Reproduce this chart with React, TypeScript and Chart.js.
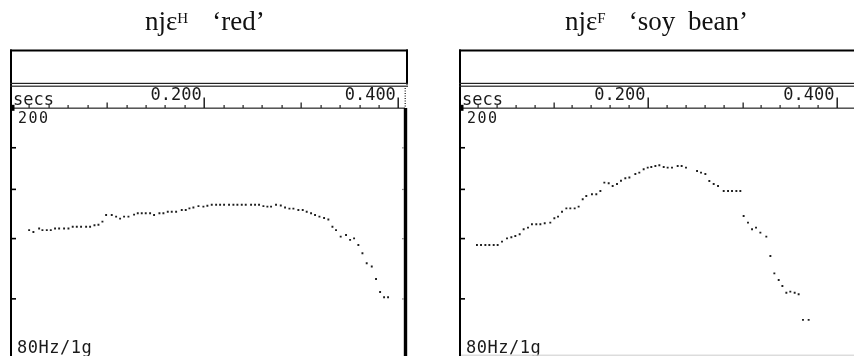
import React, { useEffect, useRef } from 'react';
import { Chart, registerables } from 'chart.js';

Chart.register(...registerables);

// ---------- data ----------
// Left panel: njɛH 'red'  (time in seconds, F0 in Hz)
const LEFT_TIMES = [
  0.0197, 0.0241, 0.0300, 0.0334, 0.0379, 0.0420, 0.0464, 0.0506, 0.0557, 0.0602,
  0.0646, 0.0688, 0.0732, 0.0784, 0.0825, 0.0870, 0.0911, 0.0952, 0.0990, 0.1048,
  0.1093, 0.1134, 0.1175, 0.1220, 0.1278, 0.1316, 0.1357, 0.1398, 0.1443, 0.1484,
  0.1539, 0.1580, 0.1625, 0.1666, 0.1711, 0.1769, 0.1810, 0.1848, 0.1889, 0.1941,
  0.1992, 0.2033, 0.2078, 0.2123, 0.2164, 0.2205, 0.2256, 0.2301, 0.2342, 0.2387,
  0.2428, 0.2483, 0.2524, 0.2565, 0.2610, 0.2651, 0.2689, 0.2740, 0.2789, 0.2833,
  0.2878, 0.2919, 0.2970, 0.3015, 0.3056, 0.3101, 0.3142, 0.3187, 0.3235, 0.3279,
  0.3321, 0.3358, 0.3406, 0.3461, 0.3503, 0.3544, 0.3588, 0.3630, 0.3674, 0.3726,
  0.3770, 0.3812, 0.3853, 0.3894,
];
const LEFT_HZ = [
  129.0, 128.1, 129.8, 129.0, 129.0, 129.0, 129.8, 129.8, 129.8, 129.8,
  130.6, 130.6, 130.6, 130.6, 130.6, 131.3, 131.6, 133.1, 136.4, 136.4,
  135.6, 134.6, 135.6, 135.6, 136.6, 137.3, 137.3, 137.3, 137.3, 136.4,
  137.3, 137.3, 138.1, 138.1, 138.1, 139.0, 139.0, 139.8, 140.3, 141.0,
  140.7, 141.2, 141.7, 141.7, 141.7, 141.7, 141.7, 141.7, 141.7, 141.7,
  141.7, 141.7, 141.7, 141.7, 141.0, 140.7, 140.7, 141.7, 141.3, 140.3,
  139.7, 139.7, 139.0, 139.0, 138.1, 137.3, 136.4, 135.6, 134.9, 134.2,
  130.6, 129.0, 125.9, 126.7, 124.4, 125.1, 122.1, 118.4, 114.1, 112.7,
  107.6, 102.6, 100.6, 100.6,
];

// Right panel: njɛF 'soy bean'
const RIGHT_TIMES = [
  0.0190, 0.0233, 0.0279, 0.0321, 0.0367, 0.0409, 0.0455, 0.0508, 0.0554, 0.0596,
  0.0642, 0.0684, 0.0730, 0.0772, 0.0818, 0.0861, 0.0907, 0.0966, 0.1009, 0.1048,
  0.1090, 0.1136, 0.1178, 0.1224, 0.1266, 0.1309, 0.1347, 0.1407, 0.1453, 0.1496,
  0.1538, 0.1584, 0.1626, 0.1672, 0.1714, 0.1760, 0.1803, 0.1866, 0.1908, 0.1954,
  0.1997, 0.2035, 0.2078, 0.2120, 0.2166, 0.2208, 0.2254, 0.2314, 0.2356, 0.2402,
  0.2519, 0.2561, 0.2607, 0.2649, 0.2695, 0.2741, 0.2801, 0.2847, 0.2889, 0.2935,
  0.2977, 0.3012, 0.3058, 0.3101, 0.3143, 0.3189, 0.3252, 0.3295, 0.3337, 0.3383,
  0.3422, 0.3464, 0.3506, 0.3552, 0.3594, 0.3640, 0.3700,
];
const RIGHT_HZ = [
  122.1, 122.1, 122.1, 122.1, 122.1, 122.1, 123.6, 125.1, 125.6, 126.2,
  127.0, 129.4, 130.2, 131.8, 131.8, 131.8, 132.3, 132.6, 134.8, 135.6,
  138.1, 139.8, 139.8, 139.8, 140.7, 144.6, 146.4, 147.3, 147.3, 149.1,
  153.8, 153.4, 151.9, 153.0, 154.9, 156.3, 156.7, 158.8, 159.6, 161.6,
  162.6, 163.0, 163.6, 164.0, 163.0, 162.6, 162.6, 163.6, 163.6, 162.6,
  160.6, 159.6, 158.8, 154.7, 153.0, 151.9, 149.1, 149.1, 149.1, 149.1,
  149.1, 135.9, 132.6, 129.4, 130.2, 127.8, 125.9, 117.2, 109.9, 107.2,
  104.9, 102.3, 102.7, 102.3, 101.7, 92.5, 92.5,
];

// axes
const HZ_MIN = 80;
const HZ_MAX = 200;
const HZ_TICKS = [100, 125, 150, 175];
const LEFT_T_MAX = 0.4089;
const RIGHT_T_MAX = 0.4201;
const RULER_MINOR = [
  0.02, 0.04, 0.06, 0.08, 0.12, 0.14, 0.16, 0.18,
  0.22, 0.24, 0.26, 0.28, 0.32, 0.34, 0.36, 0.38,
];
const RULER_MID = [0.1, 0.3];
const RULER_MAJOR = [0.2, 0.4];
const RULER_LABELS = ['0.200', '0.400'];
const UNIT_LABEL = 'secs';
const TOP_LABEL = '200';
const BOTTOM_LABEL = '80Hz/1g';

// ---------- layout ----------
const CANVAS_H = 372;
const PLOT_TOP = 111.7;
const PLOT_BOTTOM = 359.1;
const MONO = '"DejaVu Sans Mono", "Liberation Mono", monospace';

const framePlugin = {
  id: 'pitchFrame',
  beforeDatasetsDraw(chart: any, _a: any, o: any) {
    const { ctx, chartArea: a } = chart;
    const xs = chart.scales.x;
    const ys = chart.scales.y;
    const L = a.left;
    const R = a.right;
    const H = chart.height;
    ctx.save();
    ctx.fillStyle = '#000';
    // header box
    ctx.fillRect(L, 49.5, R - L + 1, 2);
    ctx.fillRect(L, 49.5, 2, H);
    ctx.fillRect(R - 1, 49.5, 2, 35);
    ctx.fillStyle = '#222';
    ctx.fillRect(L, 82.8, R - L + 1, 1.2);
    ctx.fillRect(L, 85.6, R - L + 1, 1.2);
    // ruler baseline
    ctx.fillStyle = '#111';
    ctx.fillRect(L, 107.6, R - L - 2, 1.1);
    ctx.fillStyle = '#000';
    ctx.fillRect(L, 104.8, 4.5, 6);
    // ruler ticks
    ctx.fillStyle = '#222';
    RULER_MINOR.forEach((t) => {
      const x = xs.getPixelForValue(t);
      ctx.fillRect(Math.round(x) - 0.5, 105, 1.2, 3);
    });
    RULER_MID.forEach((t) => {
      const x = xs.getPixelForValue(t);
      ctx.fillRect(Math.round(x) - 0.5, 102.5, 1.3, 5.5);
    });
    ctx.font = '17px ' + MONO;
    ctx.textBaseline = 'alphabetic';
    RULER_MAJOR.forEach((t, i) => {
      const x = xs.getPixelForValue(t);
      ctx.fillStyle = '#111';
      ctx.fillRect(Math.round(x) - 0.5, 97.5, 1.4, 10.5);
      ctx.fillStyle = '#1a1a1a';
      ctx.textAlign = 'right';
      ctx.fillText(RULER_LABELS[i], x - 2.5, 100);
    });
    ctx.textAlign = 'left';
    ctx.fillText(UNIT_LABEL, L + 3, 104.5);
    // right side
    if (o.rightFrame) {
      ctx.fillStyle = '#444';
      for (let yy = 88; yy < 107; yy += 2.5) ctx.fillRect(R - 2.5, yy, 1.5, 1);
      ctx.fillStyle = '#000';
      ctx.fillRect(R - 3.2, 108, 3.4, H);
      ctx.fillStyle = '#888';
      HZ_TICKS.forEach((v) => {
        const y = ys.getPixelForValue(v);
        ctx.fillRect(R - 5, y - 0.5, 2, 1.2);
      });
    }
    // left axis ticks
    ctx.fillStyle = '#000';
    HZ_TICKS.forEach((v) => {
      const y = ys.getPixelForValue(v);
      ctx.fillRect(L, y - 0.8, 6, 1.6);
    });
    // labels inside plot
    ctx.fillStyle = '#1a1a1a';
    ctx.font = '15px ' + MONO;
    (ctx as any).letterSpacing = '1.5px';
    ctx.fillText(TOP_LABEL, L + 8, 122.5);
    (ctx as any).letterSpacing = '0.5px';
    ctx.font = '17px ' + MONO;
    ctx.fillText(BOTTOM_LABEL, L + 7, 352.5);
    (ctx as any).letterSpacing = '0px';
    if (o.bottomLine) {
      ctx.fillStyle = '#d4d4d4';
      ctx.fillRect(L + 2, 354.6, R - L, 1.2);
    }
    ctx.restore();
  },
};

type PanelProps = {
  times: number[];
  hz: number[];
  tMax: number;
  left: number;
  width: number;
  padL: number;
  padR: number;
  rightFrame: boolean;
  bottomLine: boolean;
};

function PitchPanel(p: PanelProps) {
  const ref = useRef<HTMLCanvasElement>(null);
  useEffect(() => {
    const chart = new Chart(ref.current as HTMLCanvasElement, {
      type: 'scatter',
      data: {
        datasets: [
          {
            data: p.times.map((t, i) => ({ x: t, y: p.hz[i] })),
            pointStyle: 'rect',
            pointRadius: 1.35,
            backgroundColor: '#1e1e1e',
            borderWidth: 0,
            showLine: false,
          },
        ],
      },
      options: {
        responsive: false,
        animation: false,
        events: [],
        layout: {
          padding: {
            left: p.padL,
            right: p.padR,
            top: PLOT_TOP,
            bottom: CANVAS_H - PLOT_BOTTOM,
          },
        },
        scales: {
          x: { type: 'linear', display: false, min: 0, max: p.tMax },
          y: { type: 'logarithmic', display: false, min: HZ_MIN, max: HZ_MAX },
        },
        plugins: {
          legend: { display: false },
          tooltip: { enabled: false },
          pitchFrame: { rightFrame: p.rightFrame, bottomLine: p.bottomLine },
        } as any,
      },
      plugins: [framePlugin as any],
    });
    return () => chart.destroy();
  }, []);
  return (
    <canvas
      ref={ref}
      width={p.width}
      height={CANVAS_H}
      style={{ position: 'absolute', left: p.left, top: 0 }}
    />
  );
}

const titleStyle: React.CSSProperties = {
  position: 'absolute',
  top: 8,
  font: '27px "Liberation Serif", "DejaVu Serif", serif',
  lineHeight: '27px',
  whiteSpace: 'nowrap',
  color: '#111',
};
const supStyle: React.CSSProperties = { fontSize: 15, position: 'relative', top: -7 };

export default function App() {
  return (
    <div
      style={{
        position: 'fixed',
        left: 0,
        top: 0,
        width: 854,
        height: 356,
        overflow: 'hidden',
        background: '#fff',
      }}
    >
      <PitchPanel
        times={LEFT_TIMES}
        hz={LEFT_HZ}
        tMax={LEFT_T_MAX}
        left={0}
        width={427}
        padL={10}
        padR={20}
        rightFrame={true}
        bottomLine={false}
      />
      <PitchPanel
        times={RIGHT_TIMES}
        hz={RIGHT_HZ}
        tMax={RIGHT_T_MAX}
        left={427}
        width={440}
        padL={32}
        padR={11}
        rightFrame={false}
        bottomLine={true}
      />
      <div style={{ ...titleStyle, left: 145 }}>
        njɛ<span style={supStyle}>H</span>
        <span style={{ marginLeft: 24 }}>‘red’</span>
      </div>
      <div style={{ ...titleStyle, left: 565 }}>
        njɛ<span style={supStyle}>F</span>
        <span style={{ marginLeft: 23, wordSpacing: 6 }}>‘soy bean’</span>
      </div>
    </div>
  );
}
